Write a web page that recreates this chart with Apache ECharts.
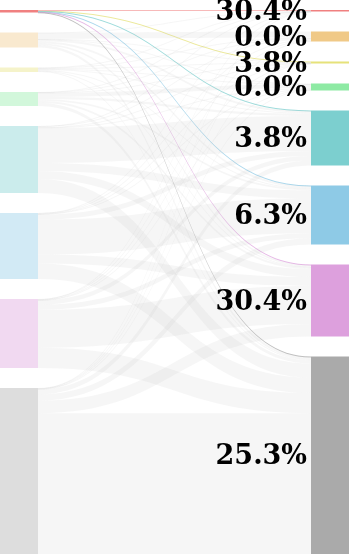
<!DOCTYPE html>
<html>
<head>
<meta charset="utf-8">
<script src="https://cdn.jsdelivr.net/npm/echarts@6/dist/echarts.min.js"></script>
<style>
  html, body { margin: 0; padding: 0; background: #fff; }
  #main { width: 349px; height: 554px; }
</style>
</head>
<body>
<div id="main"></div>
<script>
// 类别（左右两列各一套）
const categories = ['Red', 'Orange', 'Yellow', 'Green', 'Teal', 'Blue', 'Pink', 'Grey'];
const colors = ['#f08080', '#f0c987', '#e6e27a', '#8eeaa4', '#7ccfcf', '#8ecae6', '#dda0dd', '#aaaaaa'];
// 右侧节点标签
const pctLabels = ['30.4%', '0.0%', '3.8%', '0.0%', '3.8%', '6.3%', '30.4%', '25.3%'];

// 流量矩阵：行 = 左侧来源，列 = 右侧目标
const flowRed    = [0.8,  0,   0.3,  0,   0.35, 0.35, 0.4,  0.3];
const flowOrange = [0.2,  6,   0.2,  0.4, 2,    2,    1.7,  2.5];
const flowYellow = [0.1,  0.5, 0.7,  0.3, 0.9,  0.6,  0.5,  0.9];
const flowGreen  = [0.1,  0.5, 0.2,  4,   2.2,  1.8,  1.9,  3.3];
const flowTeal   = [0.1,  1,   0.2,  0.6, 35,   8,    8,    14.1];
const flowBlue   = [0.1,  0.8, 0.1,  0.6, 5,    35,   9,    15.4];
const flowPink   = [0.05, 0.6, 0.15, 0.5, 4.5,  5,    38,   20.2];
const flowGrey   = [0.05, 0.6, 0.15, 0.6, 5.05, 6.25, 12.5, 140.8];
const flows = [flowRed, flowOrange, flowYellow, flowGreen, flowTeal, flowBlue, flowPink, flowGrey];

var myChart = echarts.init(document.getElementById('main'));

let nodes = [];
categories.forEach((c, i) => {
  nodes.push({
    name: 'L-' + c,
    itemStyle: { color: colors[i], opacity: i === 0 ? 1 : 0.4 },
    label: { show: false }
  });
});
categories.forEach((c, i) => {
  nodes.push({
    name: 'R-' + c,
    itemStyle: { color: colors[i], opacity: 1 },
    label: { show: true, formatter: pctLabels[i] }
  });
});

let links = [];
flows.forEach((row, s) => {
  row.forEach((v, t) => {
    if (v <= 0) return;
    let link = { source: 'L-' + categories[s], target: 'R-' + categories[t], value: v };
    if (s === 0) {
      link.lineStyle = { color: colors[t], opacity: t === 0 ? 0.55 : 0.75 };
    }
    links.push(link);
  });
});

var option = {
  animation: false,
  series: [{
    type: 'sankey',
    left: 0,
    right: 0,
    top: 10,
    bottom: 0,
    nodeWidth: 38,
    nodeGap: 20,
    layoutIterations: 0,
    draggable: false,
    emphasis: { disabled: true },
    itemStyle: { borderWidth: 0 },
    label: {
      position: 'left',
      distance: 4,
      offset: [0, 2],
      color: '#000',
      fontFamily: 'DejaVu Serif',
      fontWeight: 'bold',
      fontSize: 27
    },
    lineStyle: { color: '#b4b4b4', opacity: 0.12, curveness: 0.5 },
    data: nodes,
    links: links
  }]
};
myChart.setOption(option);
</script>
</body>
</html>
